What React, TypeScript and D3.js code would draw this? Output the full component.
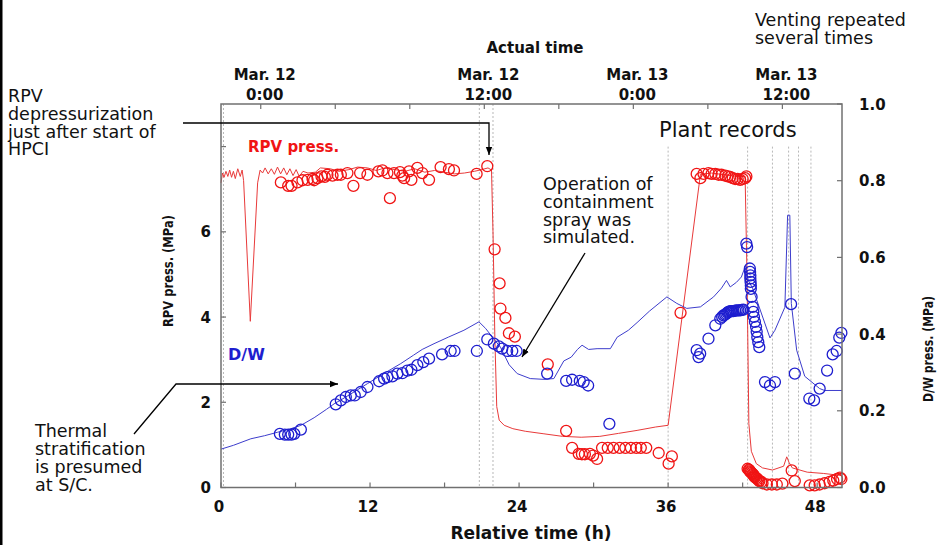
import React from 'react';
import * as d3 from 'd3';

// relative time (h) vs RPV pressure (MPa), simulated
const rpvSim: [number, number][] = [
  [0, 7.15], [0.12, 7.38], [0.25, 7.28], [0.4, 7.42], [0.55, 7.3], [0.7, 7.45], [0.85, 7.28],
  [1.0, 7.42], [1.15, 7.25], [1.35, 7.48], [1.55, 7.3], [1.7, 7.45], [1.82, 7.2], [2.36, 3.9],
  [2.95, 7.15], [3.15, 7.45], [3.35, 7.38], [3.55, 7.5], [3.8, 7.36], [4.05, 7.48], [4.3, 7.35],
  [4.55, 7.52], [4.8, 7.36], [5.05, 7.5], [5.3, 7.34], [5.55, 7.48], [5.8, 7.32], [6.05, 7.46],
  [6.3, 7.3], [6.6, 7.42], [7.0, 7.38], [7.6, 7.4], [8.0, 7.5], [8.8, 7.48], [9.5, 7.42],
  [10.3, 7.46], [11.0, 7.52], [11.8, 7.5], [12.5, 7.44], [13.2, 7.5], [14.0, 7.46], [14.8, 7.42],
  [15.6, 7.48], [16.4, 7.4], [17.2, 7.44], [18.0, 7.4], [18.8, 7.36], [19.6, 7.38], [20.4, 7.42],
  [21.0, 7.46], [21.5, 7.5], [21.78, 7.45], [21.9, 6.0], [22.05, 3.5], [22.2, 1.9], [22.4, 1.58],
  [22.8, 1.46], [23.5, 1.38], [24.5, 1.32], [26.0, 1.26], [27.5, 1.2], [29.0, 1.18], [30.5, 1.2],
  [32.0, 1.27], [33.5, 1.34], [35.0, 1.42], [36.0, 1.46], [38.6, 7.35], [39.5, 7.38], [40.5, 7.34],
  [41.5, 7.3], [42.2, 7.3], [42.35, 5.0], [42.5, 1.5], [42.7, 0.85], [43.1, 0.56], [43.6, 0.46],
  [44.4, 0.41], [45.3, 0.5], [45.55, 0.72], [45.75, 0.58], [46.0, 0.46], [47.2, 0.36], [48.5, 0.33],
  [50, 0.28],
];

// RPV pressure, plant records
const rpvRec: [number, number][] = [
  [4.82, 7.16], [5.41, 7.08], [5.68, 7.08], [6.16, 7.16], [6.56, 7.21], [6.97, 7.22], [7.37, 7.24],
  [7.5, 7.21], [7.77, 7.26], [8.09, 7.3], [8.36, 7.29], [8.57, 7.34], [8.98, 7.32], [9.38, 7.34],
  [9.65, 7.34], [10.18, 7.38], [10.66, 7.08], [11.2, 7.38], [11.79, 7.34], [12.67, 7.42], [13.0, 7.44],
  [13.4, 7.38], [13.6, 6.79], [13.93, 7.38], [14.41, 7.4], [14.6, 7.32], [14.74, 7.26], [15.14, 7.42],
  [15.33, 7.22], [15.81, 7.5], [16.21, 7.38], [16.75, 7.22], [17.68, 7.52], [18.35, 7.47], [18.76, 7.44],
  [20.58, 7.36], [21.44, 7.54],
  [22.03, 5.59], [22.43, 4.79], [22.5, 4.2], [22.9, 3.98], [23.18, 3.62], [23.66, 3.54],
  [26.31, 2.89], [27.79, 1.33], [28.27, 0.93], [28.8, 0.79], [29.06, 0.78], [29.3, 0.78], [29.7, 0.79],
  [29.96, 0.75], [30.28, 0.67],
  [30.68, 0.93], [31.14, 0.93], [31.6, 0.93], [32.1, 0.93], [32.56, 0.93], [33.0, 0.93], [33.44, 0.93],
  [33.8, 0.93], [34.24, 0.93], [35.24, 0.81], [36.04, 0.56], [36.3, 0.73], [37.0, 4.1],
  [38.3, 7.36], [38.6, 7.26], [38.85, 7.36], [39.25, 7.38], [39.5, 7.36], [39.8, 7.36], [40.06, 7.34],
  [40.3, 7.34], [40.6, 7.32], [40.8, 7.3], [41.0, 7.29], [41.2, 7.26], [41.4, 7.24], [41.6, 7.24],
  [41.8, 7.22], [42.0, 7.24], [42.2, 7.26], [42.3, 7.3],
  [42.4, 0.44], [42.5, 0.42], [42.55, 0.4], [42.6, 0.38], [42.65, 0.36], [42.72, 0.34], [42.8, 0.32],
  [42.85, 0.3], [42.9, 0.28], [42.95, 0.26], [43.0, 0.24], [43.1, 0.22], [43.2, 0.2], [43.28, 0.17],
  [43.35, 0.15], [43.5, 0.13], [43.6, 0.1],
  [43.95, 0.07], [44.35, 0.07], [44.75, 0.07], [45.2, 0.09], [45.95, 0.4], [46.2, 0.15],
  [47.4, 0.05], [47.8, 0.05], [48.2, 0.07], [48.6, 0.1], [49.0, 0.13], [49.3, 0.16], [49.6, 0.2],
  [49.84, 0.23], [49.95, 0.2],
];

// relative time (h) vs D/W pressure (MPa), simulated
const dwSim: [number, number][] = [
  [0, 0.1], [1.0, 0.11], [2.4, 0.127], [3.5, 0.135], [4.55, 0.144], [5.5, 0.152], [6.43, 0.162],
  [7.5, 0.182], [8.5, 0.204], [9.1, 0.218], [10.0, 0.235], [11.0, 0.255], [11.8, 0.271], [13.0, 0.295],
  [14.47, 0.323], [15.5, 0.345], [16.2, 0.36], [17.15, 0.375], [18.3, 0.392], [19.56, 0.41],
  [20.77, 0.432], [21.3, 0.415], [21.9, 0.39], [22.5, 0.366], [23.2, 0.32], [23.85, 0.297],
  [24.9, 0.284], [26.0, 0.282], [26.8, 0.284], [27.6, 0.33], [28.2, 0.34], [28.7, 0.36], [29.07, 0.371],
  [29.6, 0.36], [30.28, 0.362], [31.35, 0.362], [31.9, 0.392], [32.8, 0.41], [33.5, 0.43], [34.5, 0.46],
  [35.9, 0.497], [36.7, 0.48], [37.5, 0.467], [38.6, 0.471], [39.66, 0.497], [40.3, 0.52], [40.7, 0.54],
  [41.0, 0.523], [41.5, 0.535], [41.9, 0.549], [42.25, 0.58], [42.45, 0.54], [42.8, 0.52], [44.2, 0.39],
  [44.6, 0.41], [45.4, 0.47], [45.62, 0.71], [45.8, 0.71], [45.92, 0.48], [46.35, 0.358], [47.0, 0.29],
  [48.2, 0.258], [48.6, 0.253], [50, 0.253],
];

// D/W pressure, plant records
const dwRec: [number, number][] = [
  [4.74, 0.14], [5.14, 0.138], [5.41, 0.138], [5.68, 0.138], [5.9, 0.14], [6.43, 0.151],
  [9.24, 0.217], [9.65, 0.227], [10.05, 0.236], [10.45, 0.24], [10.77, 0.24], [11.25, 0.249],
  [11.79, 0.262], [12.73, 0.277], [13.13, 0.284], [13.4, 0.288], [13.8, 0.29], [14.2, 0.297],
  [14.6, 0.298], [15.0, 0.305], [15.33, 0.307], [15.81, 0.319], [16.29, 0.327], [16.75, 0.336],
  [17.8, 0.347], [18.49, 0.356], [18.8, 0.356], [20.6, 0.356],
  [21.44, 0.386], [21.97, 0.375], [22.37, 0.368], [22.64, 0.362], [23.04, 0.356], [23.45, 0.356],
  [23.8, 0.356], [26.26, 0.297], [27.79, 0.278], [28.27, 0.281], [28.89, 0.278], [29.2, 0.275],
  [29.56, 0.266], [31.27, 0.166],
  [38.3, 0.358], [38.58, 0.349], [38.45, 0.34], [39.25, 0.388], [39.8, 0.423],
  [40.2, 0.44], [40.35, 0.445], [40.46, 0.449], [40.58, 0.451], [40.68, 0.453], [40.78, 0.456],
  [40.86, 0.458], [40.95, 0.459], [41.05, 0.46], [41.15, 0.46], [41.26, 0.46], [41.4, 0.461],
  [41.53, 0.462], [41.66, 0.462], [41.8, 0.462], [41.93, 0.463], [42.06, 0.464],
  [42.3, 0.636], [42.36, 0.627], [42.58, 0.571], [42.6, 0.562], [42.62, 0.553], [42.62, 0.545],
  [42.64, 0.536], [42.66, 0.527], [42.66, 0.518], [42.72, 0.497],
  [42.81, 0.471], [42.86, 0.458], [42.91, 0.445], [42.99, 0.432], [43.08, 0.419], [43.13, 0.406],
  [43.18, 0.392], [43.26, 0.379], [43.34, 0.366],
  [43.8, 0.275], [44.2, 0.266], [44.6, 0.275], [45.9, 0.478], [46.2, 0.297],
  [47.37, 0.232], [47.75, 0.227], [48.2, 0.258], [48.8, 0.305],
  [49.25, 0.347], [49.57, 0.356], [49.78, 0.391], [49.95, 0.403],
];

const xMajor = [0, 12, 24, 36, 48];
const xMinor = [6, 18, 30, 42];
const leftTicks = [0, 2, 4, 6, 8];
const leftLabels = [0, 2, 4, 6];
const rightTicks = [0, 0.2, 0.4, 0.6, 0.8, 1.0];
const topTicks = [3.2, 9.2, 15.2, 21.2, 27.2, 33.2, 39.2, 45.2];
const topLabelPos = [3.2, 21.2, 33.2, 45.2];
const topLabelDate = ['Mar. 12', 'Mar. 12', 'Mar. 13', 'Mar. 13'];
const topLabelTime = ['0:00', '12:00', '0:00', '12:00'];
const gridFull = [0.2, 20.8, 21.9];
const gridPlant = [36.0, 42.4, 44.4, 45.7, 46.5, 47.5];

const RED = '#f01414';
const BLUE = '#1e1ecf';
const FONT = '"DejaVu Sans", Verdana, sans-serif';

const App = () => {
  const W = 939;
  const H = 545;
  const x = d3.scaleLinear().domain([0, 50]).range([221, 842]);
  const yL = d3.scaleLinear().domain([0, 9]).range([487.5, 104]);
  const yR = d3.scaleLinear().domain([0, 1]).range([487.5, 104]);

  const rpvLine = d3.line<[number, number]>().x(d => x(d[0])).y(d => yL(d[1]));
  const dwLine = d3.line<[number, number]>().x(d => x(d[0])).y(d => yR(d[1]));

  const axisColor = '#707070';
  const [x0, x1] = x.range();
  const [yb, yt] = yL.range();

  const annoLines = (lines: string[], lx: number, ly: number, dy: number) =>
    lines.map((t, i) => (
      <text key={i} x={lx} y={ly + i * dy} fontSize={17.5} fill="#111">{t}</text>
    ));

  return (
    <svg width={W} height={H} style={{ position: 'absolute', left: 0, top: 0, background: '#fff' }} fontFamily={FONT}>
      <defs>
        <marker id="arr" viewBox="0 0 10 10" refX="10" refY="5" markerWidth="8" markerHeight="8" orient="auto-start-reverse" markerUnits="userSpaceOnUse">
          <path d="M0,1 L10,5 L0,9 z" fill="#000" />
        </marker>
      </defs>
      <rect x={0} y={0} width={W} height={H} fill="#fff" />
      <rect x={0} y={0} width={2.5} height={H} fill="#000" />

      {/* dotted reference lines */}
      {gridFull.map(h => (
        <line key={'gf' + h} x1={x(h)} x2={x(h)} y1={yt} y2={yb} stroke="#b8b8b8" strokeDasharray="2,2" />
      ))}
      {gridPlant.map(h => (
        <line key={'gp' + h} x1={x(h)} x2={x(h)} y1={yL(8)} y2={yb} stroke="#b8b8b8" strokeDasharray="2,2" />
      ))}

      {/* simulated lines */}
      <path d={rpvLine(rpvSim) || ''} fill="none" stroke="#e83a3a" strokeWidth={1} />
      <path d={dwLine(dwSim) || ''} fill="none" stroke="#3d3dcc" strokeWidth={1} />

      {/* plant records */}
      {rpvRec.map((d, i) => (
        <circle key={'r' + i} cx={x(d[0])} cy={yL(d[1])} r={5.5} fill="none" stroke={RED} strokeWidth={1.3} />
      ))}
      {dwRec.map((d, i) => (
        <circle key={'b' + i} cx={x(d[0])} cy={yR(d[1])} r={5.5} fill="none" stroke={BLUE} strokeWidth={1.3} />
      ))}

      {/* frame */}
      <rect x={x0} y={yt} width={x1 - x0} height={yb - yt} fill="none" stroke={axisColor} strokeWidth={1.5} />

      {/* bottom axis */}
      {[...xMajor, ...xMinor].map(h => (
        <line key={'bt' + h} x1={x(h)} x2={x(h)} y1={yb} y2={yb - 5} stroke={axisColor} strokeWidth={1.2} />
      ))}
      {xMajor.map(h => (
        <text key={'bl' + h} x={x(h) - 2} y={512} textAnchor="middle" fontSize={15} fontWeight="bold" fill="#111">{h}</text>
      ))}
      <text x={531} y={539} textAnchor="middle" fontSize={17} fontWeight="bold" fill="#111">Relative time (h)</text>

      {/* top axis */}
      {topTicks.map(h => (
        <line key={'tt' + h} x1={x(h)} x2={x(h)} y1={yt} y2={yt + 5} stroke={axisColor} strokeWidth={1.2} />
      ))}
      {topLabelPos.map((h, i) => (
        <g key={'tl' + i} fontSize={15} fontWeight="bold" fill="#111" textAnchor="middle">
          <text x={x(h) + 4} y={80}>{topLabelDate[i]}</text>
          <text x={x(h) + 4} y={100}>{topLabelTime[i]}</text>
        </g>
      ))}
      <text x={535} y={53} textAnchor="middle" fontSize={15} fontWeight="bold" fill="#111">Actual time</text>

      {/* left axis */}
      {leftTicks.map(v => (
        <line key={'lt' + v} x1={x0} x2={x0 + 5} y1={yL(v)} y2={yL(v)} stroke={axisColor} strokeWidth={1.2} />
      ))}
      {leftLabels.map(v => (
        <text key={'ll' + v} x={211} y={yL(v) + 5.5} textAnchor="end" fontSize={15} fontWeight="bold" fill="#111">{v}</text>
      ))}
      <text transform="translate(173,271) rotate(-90)" textAnchor="middle" fontSize={14.5} fontWeight="bold" fill="#111" textLength={112} lengthAdjust="spacingAndGlyphs">RPV press. (MPa)</text>

      {/* right axis */}
      {rightTicks.map(v => (
        <line key={'rt' + v} x1={x1} x2={x1 - 5} y1={yR(v)} y2={yR(v)} stroke={axisColor} strokeWidth={1.2} />
      ))}
      {rightTicks.map(v => (
        <text key={'rl' + v} x={859} y={yR(v) + 5.5} fontSize={15} fontWeight="bold" fill="#111">{v.toFixed(1)}</text>
      ))}
      <text transform="translate(933,349) rotate(-90)" textAnchor="middle" fontSize={14.5} fontWeight="bold" fill="#111" textLength={106} lengthAdjust="spacingAndGlyphs">D/W press. (MPa)</text>

      {/* series labels */}
      <text x={248} y={152} fontSize={15} fontWeight="bold" fill={RED}>RPV press.</text>
      <text x={228} y={360} fontSize={16} fontWeight="bold" fill={BLUE}>D/W</text>
      <text x={659} y={137} fontSize={21} fill="#111">Plant records</text>

      {/* annotations */}
      {annoLines(['Venting repeated', 'several times'], 755, 26, 17.5)}
      {annoLines(['RPV', 'depressurization', 'just after start of', 'HPCI'], 8, 102, 17.8)}
      {annoLines(['Operation of', 'containment', 'spray was', 'simulated.'], 543, 190, 17.8)}
      {annoLines(['Thermal', 'stratification', 'is presumed', 'at S/C.'], 35, 437, 18)}

      <polyline points="183,123 489,123 489,155" fill="none" stroke="#000" strokeWidth={1.3} markerEnd="url(#arr)" />
      <line x1={585} y1={253} x2={522} y2={357} stroke="#000" strokeWidth={1.3} markerEnd="url(#arr)" />
      <polyline points="134,434 176,384 338,384" fill="none" stroke="#000" strokeWidth={1.3} markerEnd="url(#arr)" />
    </svg>
  );
};

export default App;
